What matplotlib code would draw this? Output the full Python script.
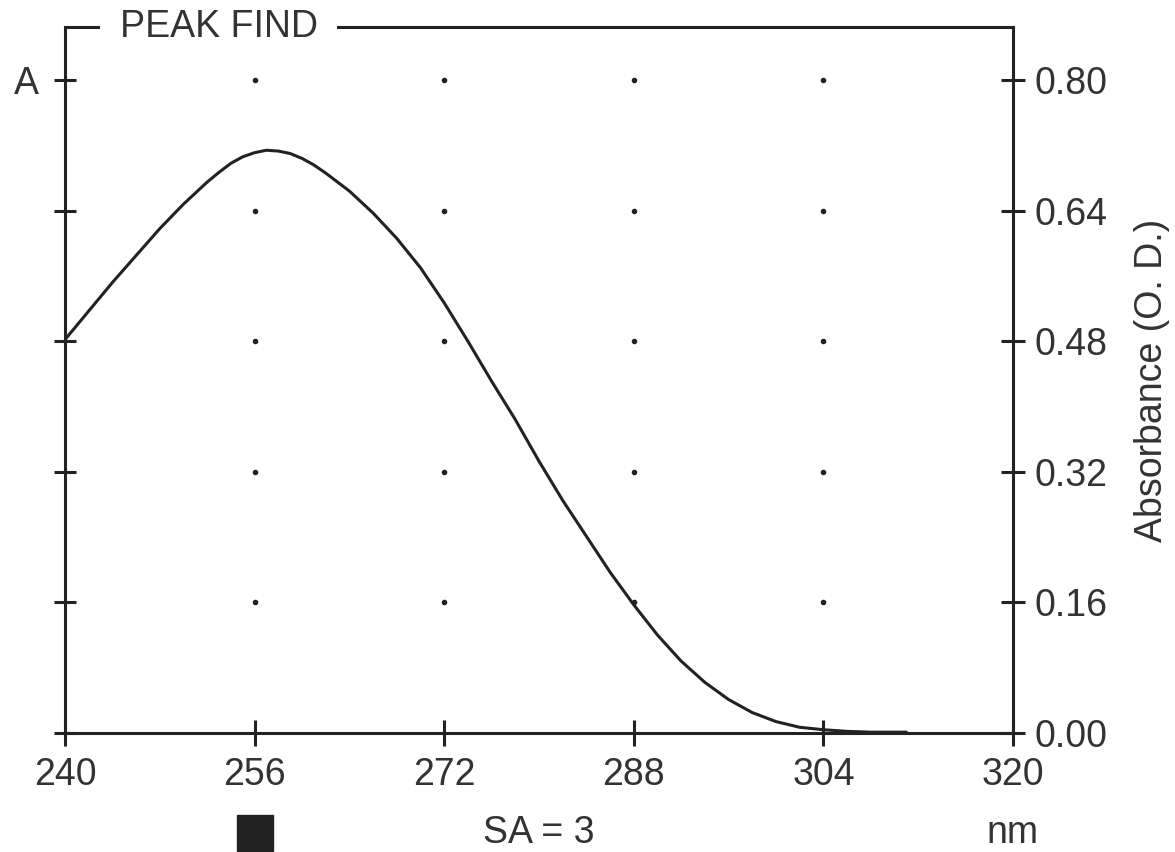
import matplotlib
matplotlib.use('Agg')
import matplotlib.pyplot as plt
import matplotlib.transforms as mtransforms

plt.rcParams['font.family'] = ['Liberation Sans', 'DejaVu Sans']

# spectrum
wavelength = [240, 242, 244, 246, 248, 250, 252, 253, 254, 255, 256, 257, 258, 259,
              260, 261, 262, 264, 266, 268, 270, 272, 274, 276, 278, 280, 282, 284,
              286, 288, 290, 292, 294, 296, 298, 300, 302, 304, 306, 308, 311]
absorbance = [0.482, 0.517, 0.552, 0.585, 0.618, 0.648, 0.675, 0.687, 0.698, 0.706,
              0.711, 0.714, 0.713, 0.710, 0.704, 0.696, 0.686, 0.664, 0.637, 0.606,
              0.570, 0.527, 0.480, 0.431, 0.384, 0.333, 0.285, 0.241, 0.197, 0.157,
              0.120, 0.088, 0.062, 0.041, 0.025, 0.014, 0.007, 0.004, 0.002, 0.001,
              0.001]

x_ticks = [240, 256, 272, 288, 304, 320]
y_ticks = [0.00, 0.16, 0.32, 0.48, 0.64, 0.80]
y_labels = ['0.00', '0.16', '0.32', '0.48', '0.64', '0.80']
grid_x = [256, 272, 288, 304]
grid_y = [0.16, 0.32, 0.48, 0.64, 0.80]

ink = '#222222'
txt = '#333333'

fig = plt.figure(figsize=(11.75, 8.52), dpi=100)
ax = fig.add_axes([65 / 1175, 119 / 852, 948 / 1175, 706 / 852])

ax.plot(wavelength, absorbance, color=ink, lw=2.2, solid_capstyle='round',
        solid_joinstyle='round')

# dotted grid
for gx in grid_x:
    ax.plot([gx] * len(grid_y), grid_y, ls='none', marker='o', ms=3, color=ink)

ax.set_xlim(240, 320)
ax.set_ylim(0, 0.865)

for s in ax.spines.values():
    s.set_linewidth(2.2)
    s.set_color(ink)

ax.set_xticks(x_ticks)
ax.set_xticklabels([str(v) for v in x_ticks])
ax.set_yticks(y_ticks)
ax.set_yticklabels(['', '', '', '', '', 'A'])
ax.tick_params(axis='x', direction='inout', length=19, width=2.2, color=ink,
               labelsize=27, labelcolor=txt, pad=8)
ax.tick_params(axis='y', direction='inout', length=16, width=2.2, color=ink,
               labelsize=27, labelcolor=txt, pad=11)

ax2 = ax.twinx()
ax2.set_ylim(ax.get_ylim())
ax2.set_yticks(y_ticks)
ax2.set_yticklabels(y_labels)
ax2.tick_params(axis='y', direction='inout', length=17, width=2.2, color=ink,
                labelsize=27, labelcolor=txt, pad=7)
for s in ax2.spines.values():
    s.set_visible(False)
ax2.set_ylabel('Absorbance (O. D.)', fontsize=27, color=txt, labelpad=19)

# title sitting in the top frame line
ax.text(0.058, 1.0, 'PEAK FIND', transform=ax.transAxes, fontsize=27, color=txt,
        ha='left', va='center',
        bbox=dict(facecolor='white', edgecolor='none', pad=14))

# bottom annotations
trans = mtransforms.blended_transform_factory(ax.transData, ax.transAxes)
ax.plot([256], [-0.142], marker='s', ms=26, color=ink, transform=trans, clip_on=False)
ax.text(0.5, -0.142, 'SA = 3', transform=ax.transAxes, fontsize=27, color=txt,
        ha='center', va='center')
ax.text(1.0, -0.142, 'nm', transform=ax.transAxes, fontsize=27, color=txt,
        ha='center', va='center')

fig.savefig('out.png', dpi=100)
